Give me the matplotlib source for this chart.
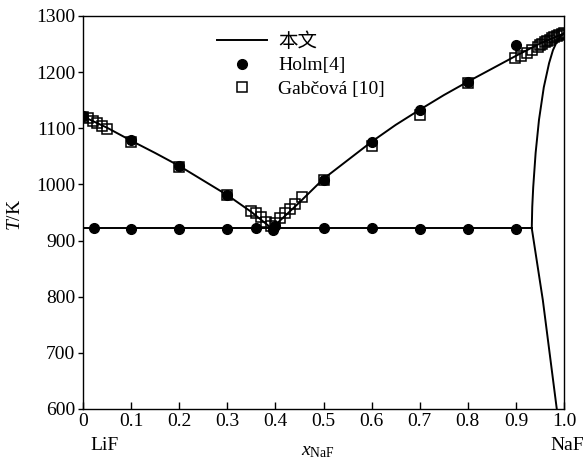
import matplotlib
matplotlib.use("Agg")
import matplotlib.pyplot as plt

# Liquidus (this work)
liq_x = [0.0, 0.05, 0.10, 0.15, 0.20, 0.25, 0.30, 0.35, 0.392, 0.40, 0.45, 0.50,
         0.55, 0.60, 0.65, 0.70, 0.75, 0.80, 0.85, 0.90, 0.95, 1.0]
liq_T = [1121, 1101, 1078, 1056, 1033, 1007, 981, 951, 922, 928, 968, 1010,
         1043, 1076, 1106, 1133, 1159, 1183, 1206, 1229, 1251, 1269]
# Eutectic horizontal
eut_x = [0.0, 0.933]
eut_T = [922, 922]
# Solidus of NaF-rich solid solution
sol_x = [0.933, 0.934, 0.936, 0.941, 0.948, 0.958, 0.969, 0.977, 0.985, 0.993, 1.0]
sol_T = [922, 960, 995, 1056, 1115, 1173, 1216, 1239, 1254, 1264, 1269]
# Solvus
svs_x = [0.933, 0.956, 0.985]
svs_T = [922, 794, 600]

# Holm [4]
holm_x = [0.0, 0.10, 0.20, 0.30, 0.40, 0.50, 0.60, 0.70, 0.80, 0.90,
          0.023, 0.10, 0.20, 0.30, 0.36, 0.395, 0.50, 0.60, 0.70, 0.80, 0.90]
holm_T = [1121, 1080, 1033, 981, 926, 1008, 1075, 1132, 1182, 1248,
          922, 921, 921, 921, 922, 918, 922, 922, 921, 921, 920]

# Gabčová [10]
gab_x = [0.0, 0.01, 0.02, 0.03, 0.04, 0.05, 0.10, 0.20, 0.30,
         0.35, 0.36, 0.37, 0.38, 0.39, 0.40, 0.41, 0.42, 0.43, 0.44, 0.455,
         0.50, 0.60, 0.70, 0.80, 0.898, 0.91, 0.923, 0.934,
         0.945, 0.95, 0.955, 0.96, 0.965, 0.97, 0.975, 0.98, 0.985, 0.99, 0.995, 1.0]
gab_T = [1120, 1118, 1113, 1109, 1104, 1098, 1075, 1031, 981,
         953, 949, 942, 933, 926, 931, 941, 949, 957, 966, 977,
         1008, 1068, 1124, 1181, 1225, 1229, 1234, 1239,
         1245, 1248, 1251, 1253, 1256, 1258, 1260, 1262, 1264, 1266, 1268, 1270]

xticks = [0, 0.1, 0.2, 0.3, 0.4, 0.5, 0.6, 0.7, 0.8, 0.9, 1.0]
xticklabels = ["0", "0.1", "0.2", "0.3", "0.4", "0.5", "0.6", "0.7", "0.8", "0.9", "1.0"]
yticks = [600, 700, 800, 900, 1000, 1100, 1200, 1300]

plt.rcParams['font.family'] = ['Liberation Serif', 'Noto Sans CJK SC']
plt.rcParams['mathtext.fontset'] = 'custom'
plt.rcParams['mathtext.rm'] = 'Liberation Serif'
plt.rcParams['mathtext.it'] = 'Liberation Serif:italic'

FS = 14
fig = plt.figure(figsize=(5.83, 4.61), dpi=100)
ax = fig.add_axes([0.1424, 0.1128, 0.8250, 0.8525])

lw = 1.4
ax.plot(liq_x, liq_T, color='black', lw=lw, label='本文')
ax.plot(eut_x, eut_T, color='black', lw=lw)
ax.plot(sol_x, sol_T, color='black', lw=lw)
ax.plot(svs_x, svs_T, color='black', lw=lw)

ax.plot(holm_x, holm_T, 'o', color='black', ms=7, ls='none', label='Holm[4]')
ax.plot(gab_x, gab_T, 's', mfc='none', mec='black', mew=1.1, ms=7, ls='none',
        label='Gabčová [10]')

ax.set_xlim(0, 1.0)
ax.set_ylim(600, 1300)
ax.set_xticks(xticks)
ax.set_xticklabels(xticklabels)
ax.set_yticks(yticks)
ax.tick_params(axis='x', direction='in', length=5, width=1, labelsize=FS, pad=3, top=False)
ax.tick_params(axis='y', direction='out', length=3.5, width=1, labelsize=FS, pad=2, right=False)
for s in ax.spines.values():
    s.set_linewidth(1.0)

ax.set_ylabel('$T$/K', fontsize=FS)
ax.yaxis.set_label_coords(-0.122, 0.494)
fig.text(318 / 583, 1 - 451 / 461, r'$x_{\mathrm{NaF}}$', fontsize=FS, ha='center', va='center')
fig.text(105 / 583, 1 - 445 / 461, 'LiF', fontsize=FS, ha='center', va='center')
fig.text(567 / 583, 1 - 445 / 461, 'NaF', fontsize=FS, ha='center', va='center')

ax.legend(loc='upper left', bbox_to_anchor=(0.270, 0.968), frameon=False, fontsize=FS,
          handlelength=2.6, handletextpad=0.55, labelspacing=0.3, borderpad=0.2,
          borderaxespad=0, markerscale=1.0)

fig.savefig('out.png', dpi=100)
